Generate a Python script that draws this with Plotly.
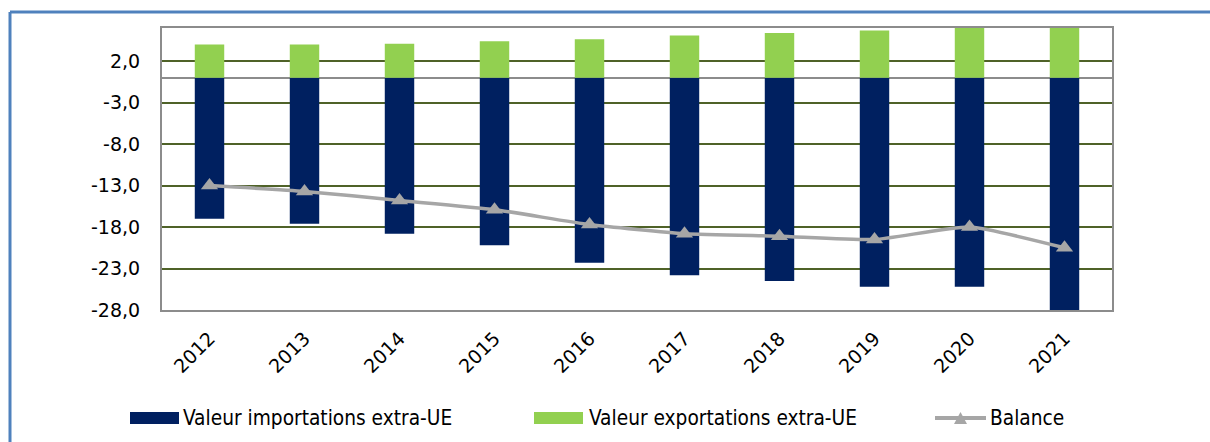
import plotly.graph_objects as go

# Extra-EU trade values by year
years = ["2012", "2013", "2014", "2015", "2016", "2017", "2018", "2019", "2020", "2021"]
imports_extra_ue = [-17.0, -17.6, -18.8, -20.2, -22.3, -23.8, -24.5, -25.2, -25.2, -28.3]
exports_extra_ue = [4.0, 4.0, 4.1, 4.4, 4.65, 5.1, 5.4, 5.7, 7.2, 7.8]
balance = [-13.0, -13.7, -14.8, -15.9, -17.7, -18.8, -19.1, -19.5, -18.0, -20.5]

y_ticks = [2, -3, -8, -13, -18, -23, -28]
y_tick_labels = ["2,0", "-3,0", "-8,0", "-13,0", "-18,0", "-23,0", "-28,0"]

series_names = ["Valeur importations extra-UE", "Valeur exportations extra-UE", "Balance"]

W, H = 1210, 442
ML, MR, MT, MB = 162, 98, 28, 132
PW, PH = W - ML - MR, H - MT - MB

NAVY = "#002060"
GREEN = "#92d050"
GREY_LINE = "#a6a6a6"
GRID = "#4f6228"
FRAME = "#8c8c8c"
BORDER = "#4f81bd"
LEGEND_FONT = dict(family="DejaVu Sans Condensed, DejaVu Sans", size=20.7, color="#000000")

fig = go.Figure()
fig.add_trace(go.Bar(
    x=years, y=imports_extra_ue, name=series_names[0],
    marker=dict(color=NAVY, line=dict(width=0)),
))
fig.add_trace(go.Bar(
    x=years, y=exports_extra_ue, name=series_names[1],
    marker=dict(color=GREEN, line=dict(width=0)),
))
fig.add_trace(go.Scatter(
    x=years, y=balance, name=series_names[2], mode="lines+markers",
    line=dict(color=GREY_LINE, width=3.5, shape="spline", smoothing=0.5),
    marker=dict(symbol="triangle-up", size=15, color=GREY_LINE),
))


def px_x(px):
    return (px - ML) / PW


def px_y(py):
    return 1 - (py - MT) / PH


# Blue frame along the top and left edges of the page
shapes = [
    dict(type="line", xref="paper", yref="paper",
         x0=px_x(10), x1=px_x(W + 5), y0=px_y(12), y1=px_y(12),
         line=dict(color=BORDER, width=3)),
    dict(type="line", xref="paper", yref="paper",
         x0=px_x(10), x1=px_x(10), y0=px_y(12), y1=px_y(H + 5),
         line=dict(color=BORDER, width=3)),
]

# Legend row below the chart: swatches plus labels
leg_y = 418
swatch_x = [130, 534]
for sx, col in zip(swatch_x, [NAVY, GREEN]):
    shapes.append(dict(type="rect", xref="paper", yref="paper",
                       x0=px_x(sx), x1=px_x(sx + 49), y0=px_y(leg_y - 6), y1=px_y(leg_y + 6),
                       fillcolor=col, line=dict(width=0)))
shapes.append(dict(type="line", xref="paper", yref="paper",
                   x0=px_x(935), x1=px_x(986), y0=px_y(leg_y), y1=px_y(leg_y),
                   line=dict(color=GREY_LINE, width=4)))
tri = (f"M {px_x(954)} {px_y(leg_y + 6)} L {px_x(967)} {px_y(leg_y + 6)} "
       f"L {px_x(960.5)} {px_y(leg_y - 6)} Z")
shapes.append(dict(type="path", xref="paper", yref="paper", path=tri,
                   fillcolor=GREY_LINE, line=dict(width=0)))

annotations = []
for tx, name in zip([181, 587, 988], series_names):
    annotations.append(dict(xref="paper", yref="paper", x=px_x(tx), y=px_y(leg_y),
                            xanchor="left", yanchor="middle", text=name,
                            showarrow=False, font=LEGEND_FONT))

fig.update_layout(
    width=W, height=H,
    margin=dict(l=ML, r=MR, t=MT, b=MB, autoexpand=False),
    paper_bgcolor="white", plot_bgcolor="white",
    barmode="relative", bargap=0.69,
    font=dict(family="DejaVu Sans", size=17, color="#000000"),
    shapes=shapes, annotations=annotations,
    showlegend=False,
    xaxis=dict(
        type="category", range=[-0.5, len(years) - 0.5], tickangle=-45,
        showgrid=False, automargin=False,
        showline=True, mirror=True, linecolor=FRAME, linewidth=2,
        ticks="", ticklabelstandoff=8, tickfont=dict(family="DejaVu Sans", size=19),
    ),
    yaxis=dict(
        range=[-28, 6], tickvals=y_ticks, ticktext=y_tick_labels, automargin=False,
        showgrid=True, gridcolor=GRID, gridwidth=2,
        zeroline=True, zerolinecolor=FRAME, zerolinewidth=2,
        showline=True, mirror=True, linecolor=FRAME, linewidth=2,
        ticks="", ticklabelstandoff=16,
        tickfont=dict(family="DejaVu Sans", size=19),
    ),
)

fig.write_html("out.html")
